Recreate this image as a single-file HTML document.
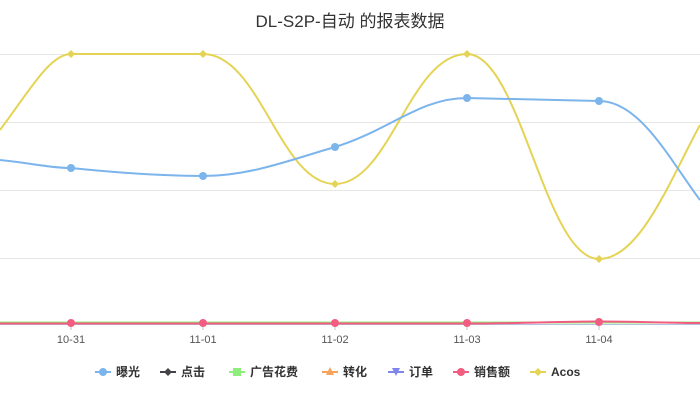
<!DOCTYPE html>
<html><head><meta charset="utf-8"><style>
body{margin:0;background:#fff;width:700px;height:400px;overflow:hidden;font-family:"Liberation Sans","Noto Sans CJK SC",sans-serif}
</style></head><body>
<svg width="700" height="400" xmlns="http://www.w3.org/2000/svg" font-family="Liberation Sans, Noto Sans CJK SC, sans-serif">
<text x="350" y="27" text-anchor="middle" font-size="17" fill="#333">DL-S2P-自动 的报表数据</text>
<g stroke="#e6e6e6" stroke-width="1">
<line x1="0" y1="54.5" x2="700" y2="54.5"/><line x1="0" y1="122.5" x2="700" y2="122.5"/>
<line x1="0" y1="190.5" x2="700" y2="190.5"/><line x1="0" y1="258.5" x2="700" y2="258.5"/>
</g>
<line x1="0" y1="324.5" x2="700" y2="324.5" stroke="#b0c4de"/>
<g stroke="#b0c4de"><line x1="71" y1="324" x2="71" y2="330"/><line x1="203" y1="324" x2="203" y2="330"/><line x1="335" y1="324" x2="335" y2="330"/><line x1="467" y1="324" x2="467" y2="330"/><line x1="599" y1="324" x2="599" y2="330"/></g>
<g font-size="11" fill="#555" text-anchor="middle">
<text x="71" y="343">10-31</text><text x="203" y="343">11-01</text><text x="335" y="343">11-02</text><text x="467" y="343">11-03</text><text x="599" y="343">11-04</text></g>
<path d="M0,130 C30,90 50,54 71,54 L203,54 C260,54 280,184 335,184 C390,184 410,54 467,54 C520,54 545,259 599,259 C640,259 670,180 700,125" fill="none" stroke="#e4d354" stroke-width="2"/>
<path d="M0,160 C30,163 50,168 71,168 C120,173 170,176 203,176 C250,176 290,160 335,147 C390,130 420,98 467,98 L599,101 C640,101 670,160 700,200" fill="none" stroke="#7cb5ec" stroke-width="2"/>
<line x1="0" y1="322.5" x2="700" y2="322.5" stroke="#90ed7d" stroke-width="2"/>
<path d="M0,323.5 L467,323.5 C520,323.5 560,321.5 599,321.5 C640,321.5 670,323 700,323" fill="none" stroke="#f15c80" stroke-width="2"/>
<g fill="#7cb5ec"><circle cx="71" cy="168" r="4"/><circle cx="203" cy="176" r="4"/><circle cx="335" cy="147" r="4"/><circle cx="467" cy="98" r="4"/><circle cx="599" cy="101" r="4"/></g>
<g fill="#e4d354"><path d="M71,50 l4,4 -4,4 -4,-4z"/><path d="M203,50 l4,4 -4,4 -4,-4z"/><path d="M335,180 l4,4 -4,4 -4,-4z"/><path d="M467,50 l4,4 -4,4 -4,-4z"/><path d="M599,255 l4,4 -4,4 -4,-4z"/></g>
<g fill="#f15c80"><circle cx="71" cy="323" r="4"/><circle cx="203" cy="323" r="4"/><circle cx="335" cy="323" r="4"/><circle cx="467" cy="323" r="4"/><circle cx="599" cy="322" r="4"/></g>
<g font-size="12" font-weight="bold" fill="#333">
<line x1="95" y1="372" x2="111" y2="372" stroke="#7cb5ec" stroke-width="2"/><circle cx="103" cy="372" r="4" fill="#7cb5ec"/><text x="116" y="376">曝光</text>
<line x1="160" y1="372" x2="176" y2="372" stroke="#434348" stroke-width="2"/><path d="M168,368 l4,4 -4,4 -4,-4z" fill="#434348"/><text x="181" y="376">点击</text>
<line x1="229" y1="372" x2="245" y2="372" stroke="#90ed7d" stroke-width="2"/><rect x="233" y="368" width="8" height="8" fill="#90ed7d"/><text x="250" y="376">广告花费</text>
<line x1="322" y1="372" x2="338" y2="372" stroke="#f7a35c" stroke-width="2"/><path d="M330,367 l4,8 -8,0z" fill="#f7a35c"/><text x="343" y="376">转化</text>
<line x1="388" y1="372" x2="404" y2="372" stroke="#8085e9" stroke-width="2"/><path d="M392,368 l8,0 -4,8z" fill="#8085e9"/><text x="409" y="376">订单</text>
<line x1="453" y1="372" x2="469" y2="372" stroke="#f15c80" stroke-width="2"/><circle cx="461" cy="372" r="4" fill="#f15c80"/><text x="474" y="376">销售额</text>
<line x1="530" y1="372" x2="546" y2="372" stroke="#e4d354" stroke-width="2"/><path d="M538,368 l4,4 -4,4 -4,-4z" fill="#e4d354"/><text x="551" y="376">Acos</text>
</g>
</svg>
</body></html>
